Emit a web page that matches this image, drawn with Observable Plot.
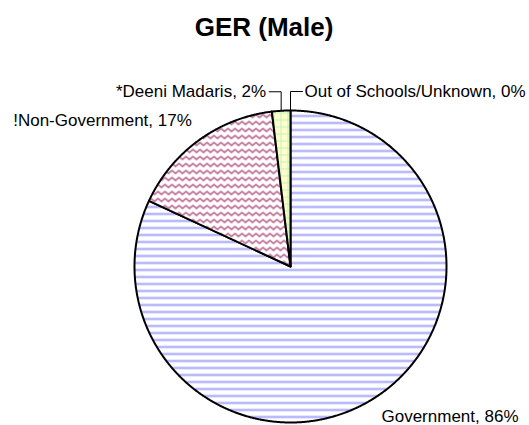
<!DOCTYPE html>
<html>
<head>
<meta charset="utf-8">
<script src="https://cdn.jsdelivr.net/npm/d3@7"></script>
<script src="https://cdn.jsdelivr.net/npm/@observablehq/plot@0.6"></script>
<style>
  html, body { margin: 0; padding: 0; background: #fff; }
  #defs { position: absolute; width: 0; height: 0; }
</style>
</head>
<body>
<svg id="defs" width="0" height="0" aria-hidden="true">
  <defs>
    <pattern id="patGov" width="7" height="7" patternUnits="userSpaceOnUse">
      <rect width="7" height="7" fill="#ffffff"/>
      <rect y="2.5" width="7" height="2" fill="#a4a4fb"/>
    </pattern>
    <pattern id="patNonGov" width="7" height="7" patternUnits="userSpaceOnUse">
      <rect width="7" height="7" fill="#ffffff"/>
      <path d="M-3.5,2 L0,5 L3.5,2 L7,5 L10.5,2" fill="none" stroke="#b0527f" stroke-width="1.4" stroke-linejoin="round"/>
    </pattern>
    <pattern id="patDeeni" width="7" height="7" patternUnits="userSpaceOnUse">
      <rect width="7" height="7" fill="#ffffcc"/>
      <path d="M0,0.5H7M0.5,0V7" fill="none" stroke="#c4f0bc" stroke-width="1"/>
    </pattern>
    <pattern id="patOos" width="7" height="7" patternUnits="userSpaceOnUse">
      <rect width="7" height="7" fill="#ccffff"/>
    </pattern>
  </defs>
</svg>
<script>
// ---- data ----
const chartTitle = "GER (Male)";
const categories = ["Government", "!Non-Government", "*Deeni Madaris", "Out of Schools/Unknown"];
const values = [86, 17, 2, 0];
const percentLabels = ["86%", "17%", "2%", "0%"];

// ---- styles / layout (not data) ----
const fills = ["url(#patGov)", "url(#patNonGov)", "url(#patDeeni)", "url(#patOos)"];
// label placement relative to slice mid-point on the rim (pixels)
const labelLayout = [
  {leader: false, anchor: "start", dx: 7, dy: 19},
  {leader: false, anchor: "end", dx: -7, dy: -20},
  {leader: true, dir: -1, anchor: "end", dx: -3, dy: 0},
  {leader: true, dir: 1, anchor: "start", dx: 2, dy: 0}
];
const R = 156; // pixel radius, for converting leader offsets
const leaderRise = 19, leaderRun = 12;

const rows = categories.map((c, i) => ({category: c, value: values[i], label: `${c}, ${percentLabels[i]}`, i}));
const arcs = d3.pie().sort(null).value(d => d.value).startAngle(0).endAngle(2 * Math.PI)(rows);

function slicePoints(a) {
  const pts = [{x: 0, y: 0}];
  const n = Math.max(2, Math.ceil((a.endAngle - a.startAngle) / 0.005));
  for (let k = 0; k <= n; k++) {
    const t = a.startAngle + (a.endAngle - a.startAngle) * k / n;
    pts.push({x: Math.sin(t), y: Math.cos(t)});
  }
  pts.push({x: 0, y: 0});
  return pts;
}

const marks = [];
arcs.forEach((a, i) => {
  if (a.endAngle - a.startAngle <= 0) return;
  marks.push(Plot.line(slicePoints(a), {x: "x", y: "y", fill: fills[i], stroke: "black", strokeWidth: 2, strokeLinejoin: "round"}));
});

arcs.forEach((a, i) => {
  const m = (a.startAngle + a.endAngle) / 2;
  const L = labelLayout[i];
  const rim = {x: Math.sin(m), y: Math.cos(m)};
  let anchorPt = rim;
  if (L.leader) {
    const p2 = {x: rim.x, y: rim.y + leaderRise / R};
    const p3 = {x: rim.x + L.dir * leaderRun / R, y: p2.y};
    marks.push(Plot.line([rim, p2, p3], {x: "x", y: "y", stroke: "black", strokeWidth: 1}));
    anchorPt = p3;
  }
  marks.push(Plot.text([{...anchorPt, label: a.data.label}], {
    x: "x", y: "y", text: "label",
    textAnchor: L.anchor, dx: L.dx, dy: L.dy,
    fontSize: 17, fill: "black"
  }));
});

marks.push(Plot.text([chartTitle], {
  frameAnchor: "top", text: d => d, lineAnchor: "top", dy: 17, dx: -1,
  fontSize: 26, fontWeight: "bold", fill: "black"
}));

const chart = Plot.plot({
  width: 529,
  height: 425,
  margin: 0,
  style: {fontFamily: "'Liberation Sans', Arial, sans-serif", background: "#fff", overflow: "visible"},
  x: {domain: [-1, 1], range: [290 - R, 290 + R], axis: null},
  y: {domain: [-1, 1], range: [266 + R, 266 - R], axis: null},
  marks
});
document.body.appendChild(chart);
</script>
</body>
</html>
